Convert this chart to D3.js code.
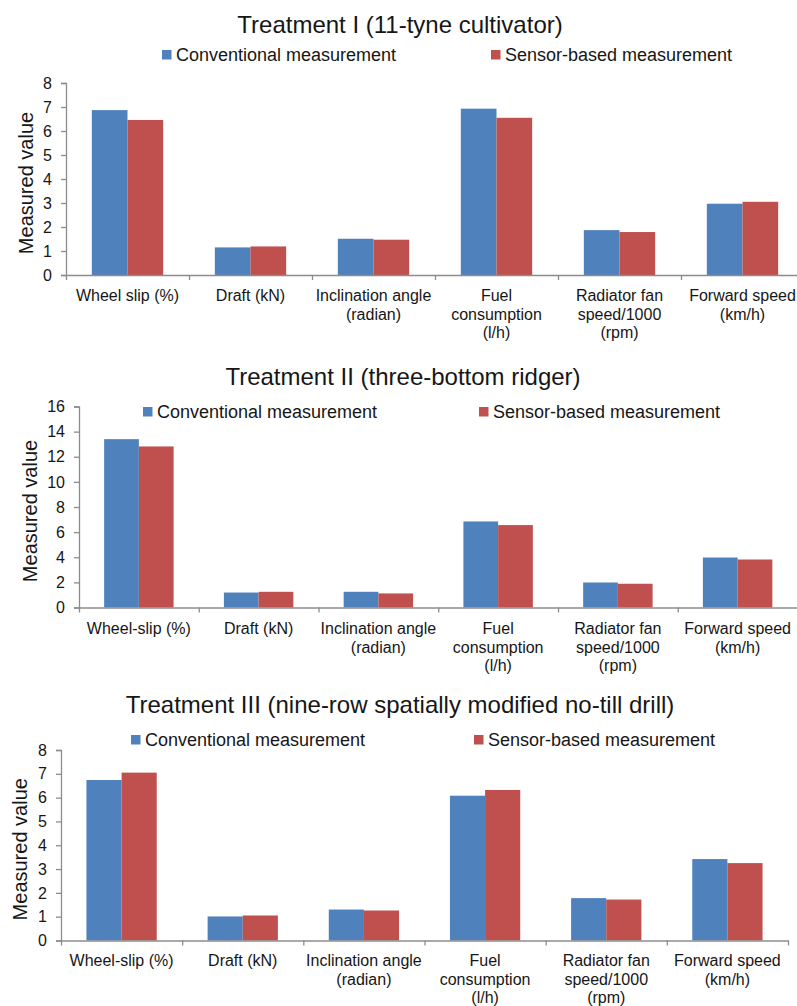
<!DOCTYPE html>
<html>
<head>
<meta charset="utf-8">
<script src="https://cdn.jsdelivr.net/npm/d3@7"></script>
<style>
  body { margin: 0; background: #fff; }
  svg { display: block; font-family: "Liberation Sans", Arial, sans-serif; }
</style>
</head>
<body>
<div id="chart"></div>
<script>
// three grouped bar charts, one per treatment

// data
const seriesNames = ['Conventional measurement', 'Sensor-based measurement'];

const categories1 = ['Wheel slip (%)', 'Draft (kN)', 'Inclination angle\n(radian)', 'Fuel\nconsumption\n(l/h)', 'Radiator fan\nspeed/1000\n(rpm)', 'Forward speed\n(km/h)'];
const categories23 = ['Wheel-slip (%)', 'Draft (kN)', 'Inclination angle\n(radian)', 'Fuel\nconsumption\n(l/h)', 'Radiator fan\nspeed/1000\n(rpm)', 'Forward speed\n(km/h)'];

const conventional1 = [6.87, 1.15, 1.51, 6.93, 1.87, 2.97];
const sensor1       = [6.46, 1.19, 1.47, 6.55, 1.79, 3.05];

const conventional2 = [13.4, 1.19, 1.25, 6.85, 1.99, 3.98];
const sensor2       = [12.82, 1.25, 1.12, 6.56, 1.89, 3.82];

const conventional3 = [6.74, 1.01, 1.30, 6.08, 1.78, 3.42];
const sensor3       = [7.05, 1.05, 1.26, 6.32, 1.72, 3.25];

const yTicks1 = [0, 1, 2, 3, 4, 5, 6, 7, 8];
const yTicks2 = [0, 2, 4, 6, 8, 10, 12, 14, 16];
const yTicks3 = [0, 1, 2, 3, 4, 5, 6, 7, 8];

const titles = [
  'Treatment I (11-tyne cultivator)',
  'Treatment II (three-bottom ridger)',
  'Treatment III (nine-row spatially modified no-till drill)'
];

const COLORS = ['#4f81bd', '#c0504d'];
const AXIS_COLOR = '#8c8c8c';
const TEXT_COLOR = '#161616';

// layout of each panel (pixel positions)
const panels = [
  { title: titles[0], cats: categories1, vals: [conventional1, sensor1], ticks: yTicks1, yMax: 8,
    x0: 66, x1: 804, yBottom: 275, yTop: 83, titleX: 400, titleY: 33,
    legY: 50, leg: [162, 491], labelY: 301, yLabelX: 33 },
  { title: titles[1], cats: categories23, vals: [conventional2, sensor2], ticks: yTicks2, yMax: 16,
    x0: 79, x1: 797.5, yBottom: 607.5, yTop: 406.5, titleX: 403, titleY: 385,
    legY: 407, leg: [143, 479], labelY: 634, yLabelX: 37 },
  { title: titles[2], cats: categories23, vals: [conventional3, sensor3], ticks: yTicks3, yMax: 8,
    x0: 61, x1: 788, yBottom: 940.5, yTop: 750, titleX: 400, titleY: 713,
    legY: 735, leg: [131, 474], labelY: 966, yLabelX: 27 }
];

const svg = d3.select('#chart')
  .append('svg')
  .attr('width', 797)
  .attr('height', 1006);

panels.forEach(drawPanel);

function drawPanel(p) {
  const g = svg.append('g');

  // scales
  const x = d3.scaleBand()
    .domain(p.cats)
    .range([p.x0, p.x1])
    .paddingInner(0.42)
    .paddingOuter(0.21);

  const xSub = d3.scaleBand()
    .domain([0, 1])
    .range([0, x.bandwidth()]);

  const y = d3.scaleLinear()
    .domain([0, p.yMax])
    .range([p.yBottom, p.yTop]);

  // bars
  p.vals.forEach((series, si) => {
    g.append('g')
      .selectAll('rect')
      .data(series)
      .join('rect')
      .attr('x', (d, i) => x(p.cats[i]) + xSub(si))
      .attr('y', d => y(d))
      .attr('width', xSub.bandwidth())
      .attr('height', d => y(0) - y(d))
      .attr('fill', COLORS[si]);
  });

  // y axis
  const yAxis = g.append('g')
    .attr('transform', `translate(${p.x0},0)`)
    .call(d3.axisLeft(y).tickValues(p.ticks).tickSize(5).tickPadding(9).tickFormat(d3.format('d')))
    .attr('font-family', null);
  yAxis.select('.domain').attr('stroke', AXIS_COLOR).attr('stroke-width', 1.3);
  yAxis.selectAll('.tick line').attr('stroke', AXIS_COLOR).attr('stroke-width', 1.3);
  yAxis.selectAll('.tick text')
    .attr('fill', TEXT_COLOR)
    .style('font-size', '16px');

  // x axis: ticks on the category boundaries
  const step = x.step();
  const xEdge = d3.scaleLinear().domain([0, p.cats.length]).range([p.x0, p.x0 + step * p.cats.length]);
  const xAxis = g.append('g')
    .attr('transform', `translate(0,${p.yBottom})`)
    .call(d3.axisBottom(xEdge).tickValues(d3.range(p.cats.length + 1)).tickSize(5).tickFormat('').tickSizeOuter(0));
  xAxis.select('.domain').attr('stroke', AXIS_COLOR).attr('stroke-width', 1.3);
  xAxis.selectAll('.tick line').attr('stroke', AXIS_COLOR).attr('stroke-width', 1.3);

  // category labels (multi-line)
  g.append('g')
    .selectAll('text')
    .data(p.cats)
    .join('text')
    .attr('x', d => x(d) + x.bandwidth() / 2)
    .attr('y', p.labelY)
    .attr('text-anchor', 'middle')
    .attr('fill', TEXT_COLOR)
    .style('font-size', '16px')
    .each(function(d) {
      const lines = d.split('\n');
      d3.select(this).selectAll('tspan')
        .data(lines)
        .join('tspan')
        .attr('x', x(d) + x.bandwidth() / 2)
        .attr('dy', (l, i) => i === 0 ? 0 : 18.5)
        .text(l => l);
    });

  // y label
  g.append('text')
    .attr('transform', `translate(${p.yLabelX},${(p.yBottom + p.yTop) / 2 + 4}) rotate(-90)`)
    .attr('text-anchor', 'middle')
    .attr('fill', TEXT_COLOR)
    .style('font-size', '20px')
    .text('Measured value');

  // title
  g.append('text')
    .attr('x', p.titleX)
    .attr('y', p.titleY)
    .attr('text-anchor', 'middle')
    .attr('fill', TEXT_COLOR)
    .style('font-size', '24px')
    .text(p.title);

  // legend
  seriesNames.forEach((name, si) => {
    g.append('rect')
      .attr('x', p.leg[si])
      .attr('y', p.legY)
      .attr('width', 9.5)
      .attr('height', 9.5)
      .attr('fill', COLORS[si]);
    g.append('text')
      .attr('x', p.leg[si] + 14)
      .attr('y', p.legY + 11)
      .attr('fill', TEXT_COLOR)
      .style('font-size', '18px')
      .text(name);
  });
}
</script>
</body>
</html>
